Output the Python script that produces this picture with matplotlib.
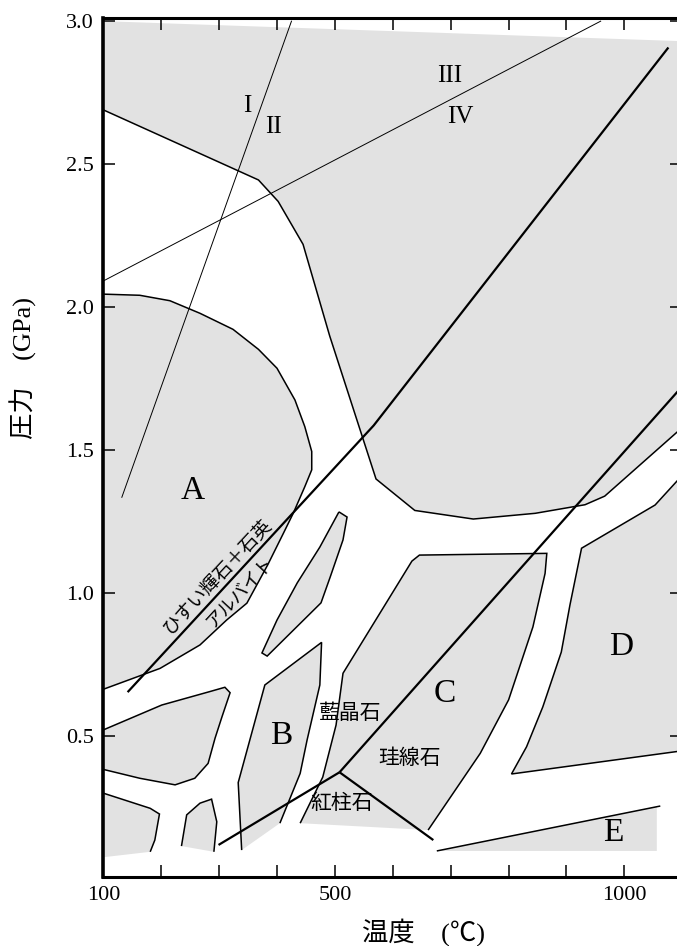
import matplotlib
matplotlib.use("Agg")
import matplotlib.pyplot as plt
from matplotlib.patches import Polygon
from matplotlib.ticker import FixedLocator, FixedFormatter

GRAY = "#e2e2e2"
SERIF = "Liberation Serif"
MIXED = ["Liberation Serif", "Noto Sans CJK JP"]
CJK = ["Noto Sans CJK JP", "DejaVu Sans"]

# ---- facies fields (temperature in degC, pressure in GPa) ----
# upper field: outlined lower boundary, shaded up to the top of the diagram
upper_T = [100, 368, 402, 445, 491, 571, 638, 739, 846, 932, 966, 1100]
upper_P = [2.69, 2.445, 2.37, 2.22, 1.90, 1.40, 1.29, 1.26, 1.28, 1.31, 1.34, 1.58]
upper_top_T = [1100, 100]
upper_top_P = [2.93, 3.0]

# field A
A_T = [100, 163, 215, 267, 324, 368, 400, 431, 448, 460, 460, 448, 428, 411, 384, 348, 313, 267, 198, 100]
A_P = [2.046, 2.042, 2.023, 1.979, 1.923, 1.853, 1.787, 1.676, 1.583, 1.496, 1.432, 1.373,
       1.280, 1.210, 1.10, 0.966, 0.907, 0.820, 0.738, 0.665]

# narrow field between A and B
sliver_T = [507, 521, 514, 492, 476, 383, 374, 400, 435, 474, 507]
sliver_P = [1.285, 1.267, 1.187, 1.058, 0.967, 0.781, 0.792, 0.907, 1.037, 1.162, 1.285]

# low-temperature fields along the left edge
F_T = [100, 201, 284, 310, 319, 305, 293, 281, 258, 224, 163, 100]
F_P = [0.523, 0.610, 0.657, 0.672, 0.653, 0.569, 0.494, 0.406, 0.354, 0.331, 0.354, 0.385]

G_T = [100, 181, 197, 189, 181]
G_P = [0.302, 0.249, 0.229, 0.138, 0.097]
G_base_T = [100]
G_base_P = [0.078]

H_T = [235, 244, 267, 287, 296, 291]
H_P = [0.117, 0.226, 0.267, 0.281, 0.202, 0.097]

# field B
B_T = [339, 333, 379, 477, 474, 452, 440, 405]
B_P = [0.103, 0.339, 0.680, 0.829, 0.680, 0.488, 0.371, 0.197]

# field C
C_T = [440, 479, 502, 514, 633, 646, 866, 863, 842, 800, 751, 661]
C_P = [0.197, 0.358, 0.540, 0.721, 1.113, 1.134, 1.140, 1.070, 0.883, 0.628, 0.441, 0.173]

# field D
D_T = [1100, 1053, 926, 906, 891, 859, 831, 805, 1100]
D_P = [1.413, 1.309, 1.158, 0.960, 0.795, 0.603, 0.464, 0.369, 0.450]

# field E
E_line_T = [676, 1062]
E_line_P = [0.100, 0.257]
E_fill_T = [676, 1056, 1056]
E_fill_P = [0.100, 0.255, 0.100]

# ---- reaction curves ----
jd_qz_ab_T = [142, 567, 1076]
jd_qz_ab_P = [0.655, 1.587, 2.908]
ky_sil_T = [508, 1100]
ky_sil_P = [0.375, 1.724]
and_ky_T = [299, 508]
and_ky_P = [0.121, 0.375]
and_sil_T = [508, 670]
and_sil_P = [0.375, 0.138]

# geotherms I/II and III/IV
geo_12_T = [132, 425]
geo_12_P = [1.336, 3.0]
geo_34_T = [100, 959]
geo_34_P = [2.092, 3.0]

# ---- axis ticks ----
x_ticks = [100, 200, 300, 400, 500, 600, 700, 800, 900, 1000]
x_tick_labels = ["100", "", "", "", "500", "", "", "", "", "1000"]
y_ticks = [0.5, 1.0, 1.5, 2.0, 2.5, 3.0]
y_tick_labels = ["0.5", "1.0", "1.5", "2.0", "2.5", "3.0"]

# ---- labels: (text, T, P) ----
field_labels = [("A", 254, 1.36), ("B", 407, 0.502), ("C", 690, 0.649),
                ("D", 995, 0.814), ("E", 981, 0.162)]
roman_labels = [("I", 348, 2.704), ("II", 394, 2.631), ("III", 699, 2.809), ("IV", 716, 2.666)]
mineral_labels = [("藍晶石", 526, 0.582), ("珪線石", 629, 0.424), ("紅柱石", 512, 0.267)]

W, H = 677, 946
fig = plt.figure(figsize=(W / 100, H / 100), dpi=100)
ax = fig.add_axes([103.3 / W, (H - 876.7) / H, 579.0 / W, 858.4 / H])
ax.set_xlim(100, 1100)
ax.set_ylim(0.01, 3.01)


def shade(T, P, z=1):
    ax.add_patch(Polygon(list(zip(T, P)), closed=True, facecolor=GRAY,
                         edgecolor="none", zorder=z))


def outline(T, P, lw=1.1):
    ax.plot(T, P, color="black", lw=lw, zorder=3, solid_joinstyle="miter",
            solid_capstyle="butt")


shade(upper_T + upper_top_T, upper_P + upper_top_P)
outline(upper_T, upper_P)

shade(A_T, A_P)
outline(A_T, A_P)

shade(sliver_T, sliver_P)
outline(sliver_T, sliver_P)

shade(F_T, F_P)
outline(F_T, F_P)

shade(G_T + G_base_T, G_P + G_base_P)
outline(G_T, G_P)

shade(H_T, H_P)
outline(H_T, H_P)

shade(B_T, B_P)
outline(B_T, B_P)

shade(C_T, C_P)
outline(C_T, C_P)

shade(D_T, D_P)
outline(D_T, D_P)

shade(E_fill_T, E_fill_P)
outline(E_line_T, E_line_P)

for T, P in [(jd_qz_ab_T, jd_qz_ab_P), (ky_sil_T, ky_sil_P),
             (and_ky_T, and_ky_P), (and_sil_T, and_sil_P)]:
    ax.plot(T, P, color="black", lw=1.6, zorder=4, solid_capstyle="butt")

for T, P in [(geo_12_T, geo_12_P), (geo_34_T, geo_34_P)]:
    ax.plot(T, P, color="black", lw=0.7, zorder=4)

for s, T, P in field_labels:
    ax.text(T, P, s, fontsize=24, family=SERIF, ha="center", va="center", zorder=5)
for s, T, P in roman_labels:
    ax.text(T, P, s, fontsize=18, family=SERIF, ha="center", va="center", zorder=5)
for s, T, P in mineral_labels:
    ax.text(T, P, s, fontsize=15, family=CJK, ha="center", va="center", zorder=5)

ax.text(298, 1.058, "ひすい輝石＋石英", fontsize=13.5, family=CJK, rotation=47,
        rotation_mode="anchor", ha="center", va="center", zorder=5)
ax.text(336, 1.005, "アルバイト", fontsize=13, family=CJK, rotation=47,
        rotation_mode="anchor", ha="center", va="center", zorder=5)

# axes frame and ticks
ax.xaxis.set_major_locator(FixedLocator(x_ticks))
ax.xaxis.set_major_formatter(FixedFormatter(x_tick_labels))
ax.yaxis.set_major_locator(FixedLocator(y_ticks))
ax.yaxis.set_major_formatter(FixedFormatter(y_tick_labels))
ax.tick_params(direction="in", length=8.6, width=1.1, top=True, right=True,
               labelsize=16, pad=7)
for lab in ax.get_xticklabels() + ax.get_yticklabels():
    lab.set_family(SERIF)
ax.spines["left"].set_linewidth(2.6)
ax.spines["bottom"].set_linewidth(2.2)
ax.spines["top"].set_linewidth(2.2)
ax.spines["right"].set_visible(False)
for sp in ax.spines.values():
    sp.set_zorder(6)

fig.text(423 / W, 1 - 932 / H, "温度　(℃)", fontsize=19, family=MIXED,
         ha="center", va="center")
fig.text(23.3 / W, 1 - 368 / H, "圧力　(GPa)", fontsize=19, family=MIXED,
         ha="center", va="center", rotation=90)

fig.savefig("out.png", dpi=100)
